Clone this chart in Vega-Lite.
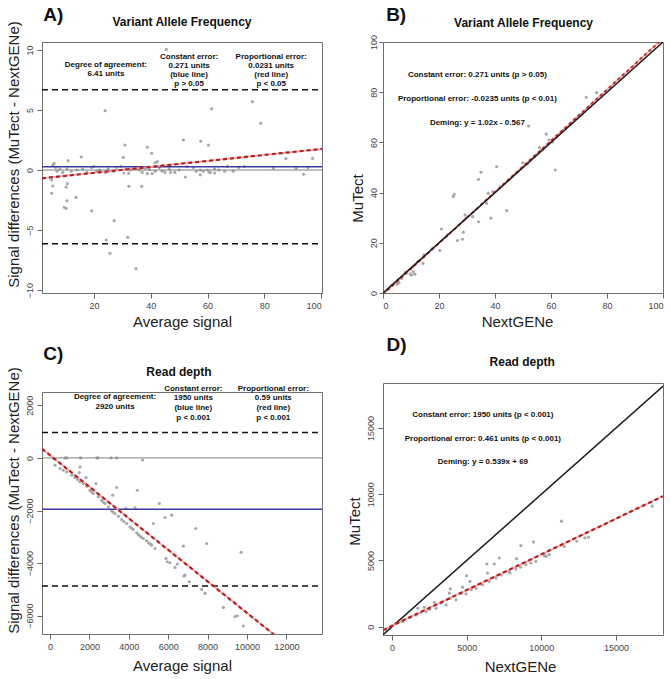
{
"$schema":"https://vega.github.io/schema/vega-lite/v6.json",
"background":"white",
"padding":{"left":5,"top":5,"right":2,"bottom":2},
"config":{
 "font":"Liberation Sans",
 "view":{"stroke":"#707070","strokeWidth":1},
 "axis":{"domain":false,"grid":false,"tickColor":"#666666","tickSize":5,"labelPadding":3,"labelFontSize":9,"labelColor":"#444444","labelFont":"Liberation Sans","titleFont":"Liberation Sans","titleFontSize":15,"titleFontWeight":"normal","titleColor":"#222222","titlePadding":4},
 "axisY":{"labelAngle":-90,"labelAlign":"center","labelBaseline":"bottom"},
 "point":{"filled":true,"color":"#a8a8a8","size":10,"opacity":1}
},
"datasets":{
 "a_pts":[{"x":5.5,"y":0.4},{"x":6,"y":0.55},{"x":6.5,"y":0.2},{"x":7,"y":-0.1},{"x":8,"y":0.1},{"x":9,"y":-0.2},{"x":10.5,"y":0.1},{"x":12,"y":-0.1},{"x":14,"y":0},{"x":16,"y":0.1},{"x":17.5,"y":-0.2},{"x":19.2,"y":0.22},{"x":20,"y":0.3},{"x":21,"y":-0.1},{"x":22,"y":0},{"x":24,"y":-0.2},{"x":25,"y":0.1},{"x":27,"y":-0.1},{"x":28,"y":0.2},{"x":29.5,"y":0.3},{"x":30.5,"y":-0.25},{"x":31,"y":0.1},{"x":32.2,"y":-0.28},{"x":33,"y":0},{"x":35,"y":0.1},{"x":36,"y":0},{"x":37,"y":-0.2},{"x":38,"y":0.15},{"x":38.8,"y":-0.3},{"x":39.5,"y":0.05},{"x":40.5,"y":-0.3},{"x":41.6,"y":-0.1},{"x":43,"y":0.2},{"x":44,"y":-0.1},{"x":45,"y":-0.2},{"x":46.5,"y":0.1},{"x":47,"y":-0.2},{"x":48.5,"y":-0.2},{"x":50,"y":0},{"x":52.7,"y":0.28},{"x":55,"y":0.22},{"x":56,"y":-0.1},{"x":57.4,"y":0},{"x":58.5,"y":-0.1},{"x":60,"y":0},{"x":61,"y":-0.2},{"x":62.5,"y":0.1},{"x":64,"y":0},{"x":66,"y":-0.1},{"x":67,"y":0.3},{"x":69,"y":-0.1},{"x":71,"y":0.2},{"x":73,"y":0.3},{"x":83.2,"y":0.14},{"x":91.2,"y":0.14},{"x":95.3,"y":0.22},
  {"x":23.9,"y":4.95},{"x":75.8,"y":5.7},{"x":61.4,"y":5.1},{"x":78.7,"y":3.9},{"x":45.5,"y":10.05},{"x":51.5,"y":2.5},{"x":57.6,"y":2.4},{"x":60.3,"y":2.08},{"x":30.9,"y":2.08},{"x":38.8,"y":1.9},{"x":15.5,"y":1.1},{"x":30.3,"y":1.06},{"x":40.3,"y":1.4},{"x":41.5,"y":0.6},{"x":42.3,"y":0.7},{"x":10.9,"y":0.78},{"x":87.6,"y":0.95},{"x":97,"y":0.97},{"x":52.2,"y":-0.58},{"x":57.4,"y":-0.4},{"x":60.5,"y":-0.2},{"x":62.5,"y":-0.25},{"x":93.8,"y":-0.35},{"x":5.1,"y":-0.83},{"x":5.5,"y":-1.33},{"x":5.1,"y":-1.94},{"x":10.6,"y":-1.14},{"x":10.2,"y":-1.42},{"x":10.5,"y":-2.56},{"x":9.5,"y":-3.1},{"x":10.2,"y":-3.2},{"x":13.7,"y":-2.28},{"x":19.2,"y":-3.4},{"x":32.3,"y":-1.36},{"x":36.8,"y":-1.36},{"x":27.1,"y":-4.22},{"x":24.3,"y":-5.83},{"x":31.9,"y":-5.62},{"x":25.6,"y":-6.94},{"x":34.8,"y":-8.22}],
 "a_hl":[{"k":"zero","x":1.7,"y":0},{"k":"zero","x":100.3,"y":0}],
 "a_blue":[{"x":1.7,"y":0.271},{"x":100.3,"y":0.271}],
 "a_loa":[{"k":"up","x":1.7,"y":6.68},{"k":"up","x":100.3,"y":6.68},{"k":"lo","x":1.7,"y":-6.14},{"k":"lo","x":100.3,"y":-6.14}],
 "a_red":[{"x":1.7,"y":-0.69},{"x":100.3,"y":1.76}],
 "a_txt":[{"x":24.2,"y":8.75,"t":"Degree of agreement:"},{"x":24.2,"y":8.0,"t":"6.41 units"},{"x":53.5,"y":9.44,"t":"Constant error:"},{"x":53.5,"y":8.69,"t":"0.271 units"},{"x":53.5,"y":7.92,"t":"(blue line)"},{"x":53.5,"y":7.17,"t":"p > 0.05"},{"x":82.4,"y":9.44,"t":"Proportional error:"},{"x":82.4,"y":8.69,"t":"0.0231 units"},{"x":82.4,"y":7.92,"t":"(red line)"},{"x":82.4,"y":7.17,"t":"p < 0.05"}],
 "a_lab":[{"x":5.7,"y":12.9,"t":"A)"}],
 "a_ttl":[{"x":51.0,"y":12.33,"t":"Variant Allele Frequency"}],
 "b_pts":[{"x":5.4,"y":5.2},{"x":5.7,"y":4.1},{"x":6.6,"y":5.8},{"x":5,"y":3.5},{"x":3,"y":3},{"x":8,"y":8.2},{"x":10.5,"y":10.2},{"x":10.8,"y":8.5},{"x":10.2,"y":7.2},{"x":11.4,"y":7.5},{"x":9.7,"y":7.6},{"x":12.5,"y":12.6},{"x":14.6,"y":15.2},{"x":14.3,"y":11.8},{"x":17.5,"y":17.6},{"x":20.3,"y":16.9},{"x":20.9,"y":25.5},{"x":23,"y":23.2},{"x":26.6,"y":20.9},{"x":28.4,"y":21.4},{"x":28.7,"y":24.2},{"x":29.3,"y":31.1},{"x":29.6,"y":29.8},{"x":32,"y":30.4},{"x":34.1,"y":28.4},{"x":38.5,"y":29.8},{"x":44.2,"y":32.8},{"x":37,"y":35.7},{"x":37.6,"y":39.7},{"x":39.2,"y":40.4},{"x":25.1,"y":38.4},{"x":25.4,"y":39.3},{"x":34.1,"y":45.3},{"x":35,"y":48.1},{"x":40.6,"y":50.3},{"x":42,"y":42.5},{"x":45,"y":45.3},{"x":47.5,"y":47.8},{"x":49.9,"y":51.9},{"x":51.6,"y":51.4},{"x":61.5,"y":49},{"x":52,"y":66.5},{"x":54,"y":54.3},{"x":55.9,"y":57.9},{"x":57,"y":57.2},{"x":58.3,"y":63.3},{"x":59.3,"y":61},{"x":60.5,"y":60.2},{"x":62,"y":62.3},{"x":64,"y":64.5},{"x":67,"y":67.3},{"x":69,"y":69.5},{"x":71,"y":71.2},{"x":72.6,"y":78},{"x":74,"y":74.5},{"x":76.3,"y":79.8}],
 "b_id":[{"x":0,"y":0},{"x":100,"y":100}],
 "b_red":[{"x":0,"y":-0.567},{"x":100,"y":101.433}],
 "b_txt":[{"x":33.7,"y":86.9,"t":"Constant error: 0.271 units (p > 0.05)"},{"x":33.7,"y":77.2,"t":"Proportional error: -0.0235 units (p < 0.01)"},{"x":33.7,"y":67.8,"t":"Deming: y = 1.02x - 0.567"}],
 "b_lab":[{"x":4.7,"y":110.8,"t":"B)"}],
 "b_ttl":[{"x":50.2,"y":107.7,"t":"Variant Allele Frequency"}],
 "c_pts":[{"x":760,"y":0},{"x":850,"y":0},{"x":1550,"y":0},{"x":2380,"y":0},{"x":2430,"y":0},{"x":3100,"y":0},{"x":3380,"y":0},{"x":4700,"y":-80},{"x":170,"y":-20},{"x":254,"y":-278},{"x":508,"y":-405},{"x":677,"y":-468},{"x":846,"y":-532},{"x":1100,"y":-658},{"x":1269,"y":-747},{"x":1400,"y":-820},{"x":1523,"y":-911},{"x":1692,"y":-974},{"x":1861,"y":-1076},{"x":2030,"y":-1228},{"x":2100,"y":-1290},{"x":2200,"y":-1354},{"x":2453,"y":-1481},{"x":2623,"y":-1607},{"x":2700,"y":-1680},{"x":2792,"y":-1734},{"x":2961,"y":-1860},{"x":3130,"y":-2012},{"x":3200,"y":-2060},{"x":3299,"y":-2114},{"x":3469,"y":-2215},{"x":3638,"y":-2341},{"x":3750,"y":-2420},{"x":3892,"y":-2493},{"x":4060,"y":-2620},{"x":4150,"y":-2680},{"x":4230,"y":-2721},{"x":4399,"y":-2848},{"x":4480,"y":-2910},{"x":4568,"y":-2974},{"x":4650,"y":-3020},{"x":4738,"y":-3063},{"x":4907,"y":-3151},{"x":5000,"y":-3230},{"x":5100,"y":-3280},{"x":5160,"y":-3316},{"x":5330,"y":-3443},
  {"x":1523,"y":-342},{"x":1489,"y":-557},{"x":1827,"y":-747},{"x":2335,"y":-974},{"x":3384,"y":-1126},{"x":3181,"y":-1417},{"x":4433,"y":-1228},{"x":3858,"y":-1924},{"x":4315,"y":-1898},{"x":5550,"y":-1734},{"x":5838,"y":-2266},{"x":6176,"y":-2177},{"x":5245,"y":-2493},{"x":7394,"y":-2683},{"x":7952,"y":-3253},{"x":6768,"y":-3354},{"x":5888,"y":-3822},{"x":5956,"y":-3949},{"x":6091,"y":-3987},{"x":6463,"y":-4037},{"x":6345,"y":-4164},{"x":6852,"y":-4455},{"x":6801,"y":-4493},{"x":7073,"y":-4708},{"x":7698,"y":-4999},{"x":7867,"y":-5151},{"x":8798,"y":-5683},{"x":9390,"y":-6037},{"x":9508,"y":-6000},{"x":9813,"y":-6392},{"x":9700,"y":-3590}],
 "c_hl":[{"x":-406,"y":0},{"x":13807,"y":0}],
 "c_blue":[{"x":-406,"y":-1950},{"x":13807,"y":-1950}],
 "c_loa":[{"k":"up","x":-406,"y":970},{"k":"up","x":13807,"y":970},{"k":"lo","x":-406,"y":-4870},{"k":"lo","x":13807,"y":-4870}],
 "c_red":[{"x":-406,"y":345},{"x":11700,"y":-6916}],
 "c_txt":[{"x":3300,"y":2315,"t":"Degree of agreement:"},{"x":3300,"y":1935,"t":"2920 units"},{"x":7274,"y":2634,"t":"Constant error:"},{"x":7274,"y":2277,"t":"1950 units"},{"x":7274,"y":1897,"t":"(blue line)"},{"x":7274,"y":1532,"t":"p < 0.001"},{"x":11335,"y":2634,"t":"Proportional error:"},{"x":11335,"y":2277,"t":"0.59 units"},{"x":11335,"y":1897,"t":"(red line)"},{"x":11335,"y":1532,"t":"p < 0.001"}],
 "c_lab":[{"x":168,"y":3963,"t":"C)"}],
 "c_ttl":[{"x":6550,"y":3264,"t":"Read depth"}],
 "d_pts":[{"x":17431,"y":9105},{"x":11346,"y":7966},{"x":9473,"y":6398},{"x":8626,"y":6120},{"x":7178,"y":5185},{"x":6843,"y":4729},{"x":6353,"y":4729},{"x":6397,"y":4047},{"x":8337,"y":5134},{"x":9296,"y":4805},{"x":10187,"y":5362},{"x":10298,"y":5362},{"x":11524,"y":6070},{"x":12371,"y":6449},{"x":12906,"y":6702},{"x":13150,"y":6750},{"x":4993,"y":3844},{"x":5216,"y":3414},{"x":3901,"y":2858},{"x":4726,"y":2984},{"x":3834,"y":2529},{"x":1716,"y":1391},{"x":2162,"y":1467},{"x":2831,"y":1821},{"x":1605,"y":885},{"x":2274,"y":1138},{"x":2942,"y":1391},{"x":3611,"y":1644},{"x":4280,"y":2023},{"x":4949,"y":2478},{"x":5617,"y":2908},{"x":6063,"y":3161},{"x":6509,"y":3414},{"x":6955,"y":3667},{"x":7846,"y":4173},{"x":8292,"y":4350},{"x":8961,"y":4679},{"x":9630,"y":4932},{"x":10521,"y":5438},{"x":268,"y":253},{"x":713,"y":379},{"x":-178,"y":-127},{"x":-401,"y":-253},{"x":1200,"y":700},{"x":1900,"y":1050},{"x":2500,"y":1300},{"x":3300,"y":1800},{"x":3900,"y":2150},{"x":4600,"y":2500},{"x":5300,"y":2800},{"x":6000,"y":3200},{"x":7300,"y":3900},{"x":7900,"y":4050},{"x":8600,"y":4500},{"x":10300,"y":5300}],
 "d_id":[{"x":-630,"y":-630},{"x":18400,"y":18400}],
 "d_red":[{"x":-610,"y":-260},{"x":18150,"y":9852}],
 "d_txt":[{"x":6083,"y":15984,"t":"Constant error: 1950 units (p < 0.001)"},{"x":6083,"y":14163,"t":"Proportional error: 0.461 units (p < 0.001)"},{"x":6083,"y":12441,"t":"Deming: y = 0.539x + 69"}],
 "d_lab":[{"x":292,"y":21294,"t":"D)"}],
 "d_ttl":[{"x":8718,"y":19982,"t":"Read depth"}]
},
"spacing":23,
"hconcat":[
 {"vconcat":[
  {"width":280,"height":251,
   "encoding":{
    "x":{"field":"x","type":"quantitative","scale":{"domain":[1.7,100.3],"nice":false,"zero":false},"axis":{"title":"Average signal","values":[20,40,60,80,100]}},
    "y":{"field":"y","type":"quantitative","scale":{"domain":[-10.25,10.67],"nice":false,"zero":false},"axis":{"title":"Signal differences (MuTect - NextGENe)","values":[-10,-5,0,5,10],"titleY":112}}
   },
   "layer":[
    {"data":{"name":"a_pts"},"mark":{"type":"point","shape":"circle"}},
    {"data":{"name":"a_hl"},"mark":{"type":"line","clip":true,"color":"#808080","strokeWidth":1},"encoding":{"detail":{"field":"k"}}},
    {"data":{"name":"a_blue"},"mark":{"type":"line","clip":true,"color":"#3a3aa0","strokeWidth":1.6}},
    {"data":{"name":"a_loa"},"mark":{"type":"line","clip":true,"color":"#111111","strokeWidth":1.5,"strokeDash":[6,4]},"encoding":{"detail":{"field":"k"}}},
    {"data":{"name":"a_red"},"mark":{"type":"line","clip":true,"color":"#f2a0a0","strokeWidth":1.5}},
    {"data":{"name":"a_red"},"mark":{"type":"line","clip":true,"color":"#b52020","strokeWidth":2.2,"strokeDash":[4,3]}},
    {"data":{"name":"a_txt"},"mark":{"type":"text","fontSize":8,"fontWeight":"bold","color":"#111111","align":"center","baseline":"middle"},"encoding":{"text":{"field":"t"}}},
    {"data":{"name":"a_ttl"},"mark":{"type":"text","fontSize":12,"fontWeight":"bold","color":"#111111","align":"center","baseline":"middle"},"encoding":{"text":{"field":"t"}}},
    {"data":{"name":"a_lab"},"mark":{"type":"text","fontSize":19,"fontWeight":"bold","color":"#111111","align":"center","baseline":"middle"},"encoding":{"text":{"field":"t"}}}
   ]},
  {"width":280,"height":242,
   "encoding":{
    "x":{"field":"x","type":"quantitative","scale":{"domain":[-406,13807],"nice":false,"zero":false},"axis":{"title":"Average signal","values":[0,2000,4000,6000,8000,10000,12000],"format":"d","titlePadding":7}},
    "y":{"field":"y","type":"quantitative","scale":{"domain":[-6695,2506],"nice":false,"zero":false},"axis":{"title":"Signal differences (MuTect - NextGENe)","values":[-6000,-4000,-2000,0,2000],"format":"d","titleY":108}}
   },
   "layer":[
    {"data":{"name":"c_pts"},"mark":{"type":"point","shape":"circle"}},
    {"data":{"name":"c_hl"},"mark":{"type":"line","clip":true,"color":"#808080","strokeWidth":1}},
    {"data":{"name":"c_blue"},"mark":{"type":"line","clip":true,"color":"#3a3aa0","strokeWidth":1.6}},
    {"data":{"name":"c_loa"},"mark":{"type":"line","clip":true,"color":"#111111","strokeWidth":1.5,"strokeDash":[6,4]},"encoding":{"detail":{"field":"k"}}},
    {"data":{"name":"c_red"},"mark":{"type":"line","clip":true,"color":"#f2a0a0","strokeWidth":1.5}},
    {"data":{"name":"c_red"},"mark":{"type":"line","clip":true,"color":"#b52020","strokeWidth":2.2,"strokeDash":[4,3]}},
    {"data":{"name":"c_txt"},"mark":{"type":"text","fontSize":8,"fontWeight":"bold","color":"#111111","align":"center","baseline":"middle"},"encoding":{"text":{"field":"t"}}},
    {"data":{"name":"c_ttl"},"mark":{"type":"text","fontSize":12,"fontWeight":"bold","color":"#111111","align":"center","baseline":"middle"},"encoding":{"text":{"field":"t"}}},
    {"data":{"name":"c_lab"},"mark":{"type":"text","fontSize":19,"fontWeight":"bold","color":"#111111","align":"center","baseline":"middle"},"encoding":{"text":{"field":"t"}}}
   ]}
 ],"spacing":99,"bounds":"flush"},
 {"vconcat":[
  {"width":280,"height":251,
   "encoding":{
    "x":{"field":"x","type":"quantitative","scale":{"domain":[0,100],"nice":false,"zero":false},"axis":{"title":"NextGENe","values":[0,20,40,60,80,100],"titleX":134}},
    "y":{"field":"y","type":"quantitative","scale":{"domain":[0,100],"nice":false,"zero":false},"axis":{"title":"MuTect","values":[0,20,40,60,80,100],"titleY":156,"tickSize":4,"labelPadding":1}}
   },
   "layer":[
    {"data":{"name":"b_pts"},"mark":{"type":"point","shape":"circle"}},
    {"data":{"name":"b_red"},"mark":{"type":"line","clip":true,"color":"#f2a0a0","strokeWidth":1.5}},
    {"data":{"name":"b_red"},"mark":{"type":"line","clip":true,"color":"#c03030","strokeWidth":2,"strokeDash":[3,3]}},
    {"data":{"name":"b_id"},"mark":{"type":"line","clip":true,"color":"#1a1a1a","strokeWidth":1.5}},
    {"data":{"name":"b_txt"},"mark":{"type":"text","fontSize":8,"fontWeight":"bold","color":"#111111","align":"center","baseline":"middle"},"encoding":{"text":{"field":"t"}}},
    {"data":{"name":"b_ttl"},"mark":{"type":"text","fontSize":12,"fontWeight":"bold","color":"#111111","align":"center","baseline":"middle"},"encoding":{"text":{"field":"t"}}},
    {"data":{"name":"b_lab"},"mark":{"type":"text","fontSize":19,"fontWeight":"bold","color":"#111111","align":"center","baseline":"middle"},"encoding":{"text":{"field":"t"}}}
   ]},
  {"width":280,"height":252,
   "encoding":{
    "x":{"field":"x","type":"quantitative","scale":{"domain":[-610,18150],"nice":false,"zero":false},"axis":{"title":"NextGENe","values":[0,5000,10000,15000],"format":"d","titleX":137,"titlePadding":7}},
    "y":{"field":"y","type":"quantitative","scale":{"domain":[-630,18400],"nice":false,"zero":false},"axis":{"title":"MuTect","values":[0,5000,10000,15000],"format":"d","titleY":138}}
   },
   "layer":[
    {"data":{"name":"d_pts"},"mark":{"type":"point","shape":"circle"}},
    {"data":{"name":"d_id"},"mark":{"type":"line","clip":true,"color":"#1a1a1a","strokeWidth":1.5}},
    {"data":{"name":"d_red"},"mark":{"type":"line","clip":true,"color":"#f2a0a0","strokeWidth":1.5}},
    {"data":{"name":"d_red"},"mark":{"type":"line","clip":true,"color":"#b52020","strokeWidth":2.2,"strokeDash":[4,3]}},
    {"data":{"name":"d_txt"},"mark":{"type":"text","fontSize":8,"fontWeight":"bold","color":"#111111","align":"center","baseline":"middle"},"encoding":{"text":{"field":"t"}}},
    {"data":{"name":"d_ttl"},"mark":{"type":"text","fontSize":12,"fontWeight":"bold","color":"#111111","align":"center","baseline":"middle"},"encoding":{"text":{"field":"t"}}},
    {"data":{"name":"d_lab"},"mark":{"type":"text","fontSize":19,"fontWeight":"bold","color":"#111111","align":"center","baseline":"middle"},"encoding":{"text":{"field":"t"}}}
   ]}
 ],"spacing":90,"bounds":"flush"}
]
}
